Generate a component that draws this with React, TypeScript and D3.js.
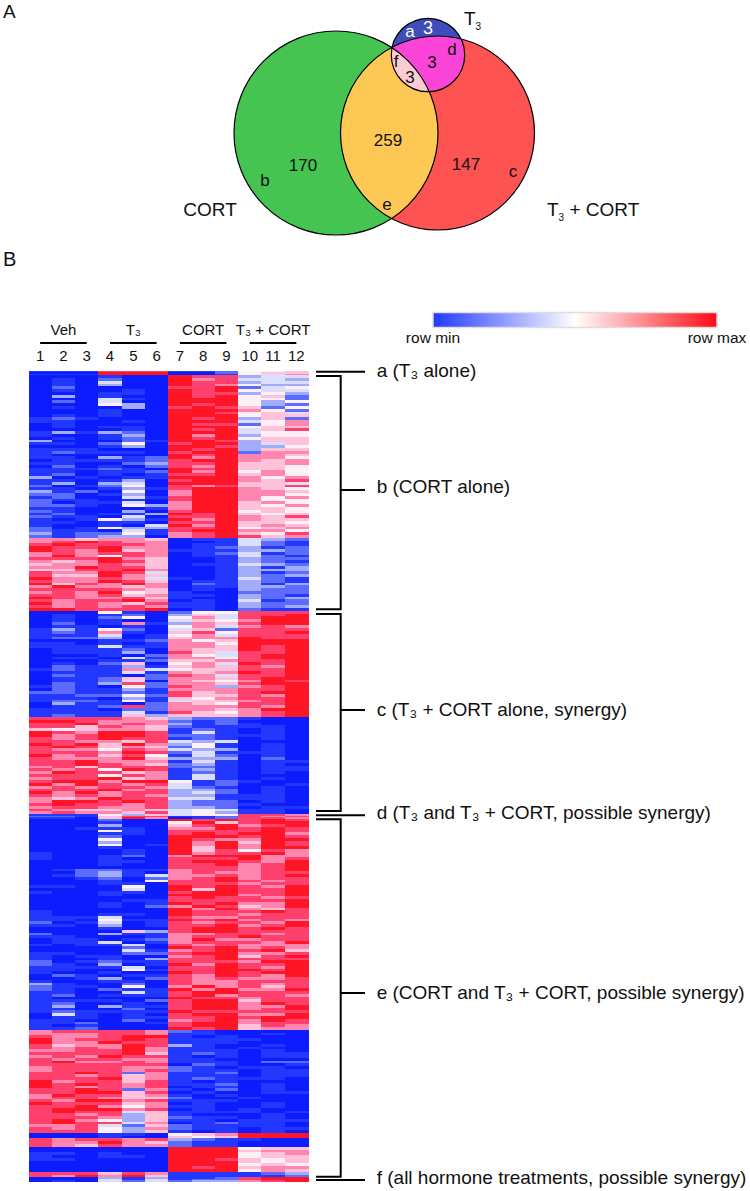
import React from "react";
import * as d3 from "d3";

// Venn counts
const onlyT3 = 3, t3AndCombo = 3, allThree = 3;
const onlyCort = 170, onlyCombo = 147, cortAndCombo = 259;

const groups = ["Veh", "T₃", "CORT", "T₃ + CORT"];
const samples = ["1", "2", "3", "4", "5", "6", "7", "8", "9", "10", "11", "12"];

// heatmap rows, one digit per sample: 0 = row min ... 9 = row max
const rowsA = ["111888112556", "000999002566", "111999001547"];

const rowsB = [
  "000 100 988 344", "010 200 978 443", "010 400 988 344", "010 300 987 533",
  "020 000 889 245", "010 010 989 544", "000 110 988 353", "030 100 989 562",
  "000 410 999 552", "020 400 999 535", "000 530 989 532", "010 030 898 625",
  "000 100 999 752", "000 100 998 564", "010 100 999 566", "121 000 989 362",
  "110 010 999 457", "010 000 988 257", "010 110 999 566", "000 010 989 468",
  "131 320 999 455", "100 130 979 355", "010 120 989 566", "300 021 998 366",
  "110 250 899 346", "000 130 998 335", "111 000 989 366", "121 110 899 277",
  "100 000 989 776", "110 312 979 775", "011 112 899 767", "110 023 889 667",
  "020 102 879 665", "111 210 989 665", "110 112 979 575", "120 101 889 675",
  "301 011 999 757", "110 130 899 768", "130 340 999 664", "201 250 878 668",
  "110 131 899 765", "312 050 799 776", "220 130 799 775", "120 041 899 757",
  "211 010 899 755", "201 140 799 675", "221 053 799 657", "110 001 799 665",
  "210 030 899 565", "120 113 989 656", "211 040 889 768", "101 531 979 766",
  "110 110 889 665", "100 104 979 676", "201 533 889 567", "211 041 899 775",
  "312 251 789 658", "212 330 789 867",
  "776 776 011 432", "789 877 001 421", "898 887 011 421", "988 977 012 312",
  "987 967 111 332", "787 887 012 412", "797 587 011 421", "888 976 001 322",
  "767 986 001 321", "677 876 011 432", "779 886 001 313", "668 897 001 333",
  "877 984 001 312", "866 976 001 323", "977 874 101 421", "877 986 011 321",
  "968 797 021 313", "797 767 011 332", "888 876 010 322", "787 956 100 222",
  "887 867 110 321", "987 786 100 323", "878 897 010 412", "978 768 110 322",
  "878 787 110 323", "998 889 010 211",
];

const rowsC = [
  "000 510 255 888", "010 120 364 889", "010 250 574 899", "010 100 465 799",
  "020 171 376 899", "011 010 574 787", "131 520 462 888", "121 710 685 889",
  "111 401 574 888", "122 301 677 988", "000 112 756 999", "110 101 775 999",
  "111 411 776 989", "011 120 766 989", "011 130 864 889", "000 102 754 899",
  "011 041 775 899", "000 112 667 889", "010 260 574 989", "021 131 676 879",
  "121 174 566 889", "011 141 767 989", "021 102 874 889", "011 262 776 899",
  "011 240 765 798", "021 382 776 899", "121 052 873 789", "021 131 777 889",
  "221 121 867 899", "112 252 866 879", "111 031 657 889", "122 151 466 789",
  "031 102 765 889", "011 282 777 879", "111 022 776 799", "111 141 865 789",
  "121 163 666 789",
  "888 876 322 100", "998 777 212 000", "889 787 312 100", "886 876 211 110",
  "656 776 121 010", "987 998 141 010", "978 998 221 110", "878 988 121 010",
  "887 768 434 000", "989 697 351 010", "898 676 251 010", "877 587 433 010",
  "888 798 241 110", "978 685 142 010", "877 796 333 020", "889 777 141 011",
  "889 876 231 010", "786 888 221 011", "878 598 131 011", "798 867 121 010",
  "888 587 141 000", "788 967 141 010", "899 799 512 100", "979 878 412 001",
  "787 887 421 010", "888 978 332 010", "979 788 342 010", "878 787 331 110",
  "767 988 441 110", "799 898 322 010", "898 878 322 100", "788 778 332 011",
  "876 676 454 110", "787 768 453 110",
];

const rowsD = ["111536455887", "221688112878", "110697012887"];

const rowsE = [
  "000 200 989 898", "000 100 596 899", "000 300 689 789", "001 110 779 898",
  "000 510 888 898", "000 110 898 997", "000 200 999 898", "000 500 987 799",
  "000 300 979 698", "000 501 979 798", "000 100 969 799", "000 010 968 587",
  "100 010 978 897", "100 120 799 977", "100 100 888 978", "000 110 899 879",
  "000 100 889 789", "000 000 888 789", "012 211 788 789", "002 310 787 788",
  "012 314 778 789", "001 202 789 788", "000 105 889 878", "000 110 888 788",
  "110 050 989 879", "000 040 969 889", "100 110 899 889", "000 100 999 789",
  "000 000 898 878", "000 011 888 889", "000 101 989 779", "000 102 798 679",
  "000 000 979 768", "100 000 988 898", "100 110 988 788", "111 400 877 888",
  "110 511 989 787", "201 401 878 879", "110 301 889 789", "000 100 899 898",
  "000 063 899 888", "200 311 778 878", "110 001 788 988", "011 012 797 788",
  "011 401 788 879", "101 140 878 777", "000 020 989 787", "000 041 789 896",
  "110 022 899 778", "101 100 789 689", "100 103 889 888", "201 211 888 799",
  "210 301 979 889", "111 140 889 879", "110 051 889 989", "100 100 989 899",
  "021 011 879 879", "001 302 878 778", "100 110 877 888", "310 020 877 878",
  "211 050 797 868", "210 211 979 779", "110 041 899 888", "120 111 897 887",
  "100 000 988 788", "111 102 899 688", "120 010 899 798", "130 311 899 779",
  "110 020 899 789", "121 111 988 888", "041 010 899 779", "011 011 889 899",
  "110 020 789 798", "112 001 899 788", "101 000 899 687", "112 000 989 677",
  "788 887 210 000", "777 887 110 010", "877 899 101 000", "978 898 111 100",
  "977 988 111 000", "867 798 310 010", "878 797 110 100", "778 897 111 010",
  "888 896 121 011", "787 988 101 011", "878 877 110 000", "897 787 111 022",
  "888 888 021 001", "788 877 210 110", "788 878 211 011", "889 827 112 011",
  "887 867 111 011", "888 967 121 110", "978 868 101 000", "989 878 112 010",
  "987 878 011 010", "889 827 102 010", "889 968 010 011", "798 867 101 000",
  "788 766 200 100", "879 978 111 000", "988 867 010 010", "889 757 110 010",
  "899 978 010 100", "898 846 111 101", "887 836 100 010", "888 736 211 010",
  "897 536 110 111", "898 847 012 110", "778 426 211 110", "878 537 211 011",
  "888 536 101 010",
  "000 110 567 999", "000 100 656 999", "878 878 321 100", "877 976 211 000",
  "876 877 211 000",
  "000 000 999 566", "000 000 999 677", "110 100 999 567", "100 110 999 566",
  "110 000 998 656", "000 000 999 656", "000 000 999 565", "000 000 989 677",
  "000 000 999 576",
  "888 687 111 123", "879 796 111 112",
];

const rowsF = ["000313112899", "000414122899", "010424233789"];

const blocks = [
  { id: "a", genes: onlyT3, rows: rowsA },
  { id: "b", genes: onlyCort, rows: rowsB },
  { id: "c", genes: onlyCombo, rows: rowsC },
  { id: "d", genes: t3AndCombo, rows: rowsD },
  { id: "e", genes: cortAndCombo, rows: rowsE },
  { id: "f", genes: allThree, rows: rowsF },
];

const ramp = ["#0a1eff", "#2238ff", "#5c6cff", "#a3acfa", "#dcdffb", "#fff0f6", "#ffc2da", "#ff86ae", "#ff3f6c", "#ff1226"];

const FONT = "'Liberation Sans', Arial, sans-serif";

const totalGenes = d3.sum(blocks, d => d.genes);
const x = d3.scaleBand().domain(samples).range([28.5, 308]);
const y = d3.scaleLinear().domain([0, totalGenes]).range([371, 1181.5]);
const colour = (v: number) => ramp[v];

const venn = {
  cort: { cx: 336, cy: 133, r: 102 },
  combo: { cx: 437.5, cy: 133, r: 97 },
  t3: { cx: 428, cy: 55, r: 36.7 },
};

const Heatmap = () => {
  let start = 0;
  return (
    <g shapeRendering="crispEdges" filter="url(#soften)">
      {blocks.map(block => {
        const band = d3.scaleBand()
          .domain(block.rows.map((_, i) => String(i)))
          .range([y(start), y(start + block.genes)]);
        start += block.genes;
        return (
          <g key={block.id}>
            {block.rows.map((row, i) =>
              row.replace(/ /g, "").split("").map((v, j) => (
                <rect
                  key={j}
                  x={x(samples[j])}
                  y={band(String(i))}
                  width={x.bandwidth() + 0.5}
                  height={band.bandwidth() + 0.5}
                  fill={colour(+v)}
                />
              ))
            )}
          </g>
        );
      })}
    </g>
  );
};

const Venn = () => (
  <g>
    <defs>
      <clipPath id="clip-combo"><circle {...venn.combo} /></clipPath>
      <clipPath id="clip-t3"><circle {...venn.t3} /></clipPath>
    </defs>
    <circle {...venn.cort} fill="#45c452" />
    <circle {...venn.combo} fill="#fd5353" />
    <g clipPath="url(#clip-combo)"><circle {...venn.cort} fill="#fec854" /></g>
    <circle {...venn.t3} fill="#3f4dbb" />
    <g clipPath="url(#clip-t3)">
      <circle {...venn.combo} fill="#fb45d8" />
      <g clipPath="url(#clip-combo)"><circle {...venn.cort} fill="#fdcbd4" /></g>
    </g>
    {[venn.cort, venn.combo, venn.t3].map((c, i) => (
      <circle key={i} {...c} fill="none" stroke="#000" strokeWidth={1.2} />
    ))}
    <g fontSize={17} textAnchor="middle" fill="#111">
      <text x={303} y={171}>{onlyCort}</text>
      <text x={388} y={146}>{cortAndCombo}</text>
      <text x={466} y={170}>{onlyCombo}</text>
      <text x={265} y={186}>b</text>
      <text x={513} y={177}>c</text>
      <text x={387} y={210}>e</text>
      <text x={452} y={55}>d</text>
      <text x={396} y={67}>f</text>
      <text x={432} y={68}>{t3AndCombo}</text>
      <text x={410} y={83}>{allThree}</text>
      <text x={410} y={37} fill="#fff">a</text>
      <text x={428} y={34} fontSize={18} fill="#fff">{onlyT3}</text>
      <text x={210} y={216} fontSize={19}>CORT</text>
    </g>
    <text x={464} y={25} fontSize={19} fill="#111">T<tspan fontSize={10} dy={5}>3</tspan></text>
    <text x={547} y={216} fontSize={19} fill="#111">T<tspan fontSize={10} dy={5}>3</tspan><tspan dy={-5}> + CORT</tspan></text>
  </g>
);

const groupLines = groups.map((g, i) => ({
  label: g,
  x1: x(samples[i * 3])! + x.bandwidth() / 2,
  x2: x(samples[i * 3 + 2])! + x.bandwidth() / 2,
}));

const bracketStart = 316, bracketSpine = 340.7, tickEnd = 365, labelX = 376.7;

const brackets = [
  { top: 376, bottom: 609.3, tick: 490 },
  { top: 614, bottom: 811, tick: 710 },
  { top: 819.3, bottom: 1176.7, tick: 993 },
];
const singles = [371.7, 815.3, 1180];

const labels = [
  { y: 376.7, text: "a (T₃ alone)" },
  { y: 492.7, text: "b (CORT alone)" },
  { y: 716, text: "c (T₃ + CORT alone, synergy)" },
  { y: 818.7, text: "d (T₃ and T₃ + CORT, possible synergy)" },
  { y: 999.3, text: "e (CORT and T₃ + CORT, possible synergy)" },
  { y: 1184, text: "f (all hormone treatments, possible synergy)" },
];

export default function App() {
  return (
    <svg
      width={750}
      height={1191}
      viewBox="0 0 750 1191"
      fontFamily={FONT}
      style={{ position: "absolute", left: 0, top: 0, background: "#fff" }}
    >
      <defs>
        <linearGradient id="legend-grad">
          <stop offset="0%" stopColor="#2238ff" />
          <stop offset="50%" stopColor="#ffffff" />
          <stop offset="100%" stopColor="#ff0a14" />
        </linearGradient>
        <filter id="soften" x="-2%" y="-1%" width="104%" height="102%">
          <feGaussianBlur stdDeviation="0.35" />
        </filter>
      </defs>

      <text x={3} y={17.5} fontSize={19} fill="#111">A</text>
      <text x={3} y={266} fontSize={20} fill="#111">B</text>

      <Venn />

      {/* column headers */}
      <g textAnchor="middle" fill="#111" fontSize={15}>
        {groupLines.map(g => (
          <g key={g.label}>
            <text x={(g.x1 + g.x2) / 2} y={335}>{g.label}</text>
            <line x1={g.x1} x2={g.x2} y1={343} y2={343} stroke="#000" strokeWidth={2} />
          </g>
        ))}
        {samples.map(s => (
          <text key={s} x={x(s)! + x.bandwidth() / 2} y={361}>{s}</text>
        ))}
      </g>

      <Heatmap />

      {/* legend */}
      <rect x={433} y={312.5} width={284} height={15} fill="url(#legend-grad)" stroke="#ddd" strokeWidth={1.5} />
      <g textAnchor="middle" fontSize={15.5} fill="#111">
        <text x={433} y={343}>row min</text>
        <text x={717} y={343}>row max</text>
      </g>

      {/* brackets */}
      <g stroke="#000" strokeWidth={2} fill="none">
        {brackets.map((b, i) => (
          <g key={i}>
            <path d={`M${bracketStart},${b.top}H${bracketSpine}V${b.bottom}H${bracketStart}`} />
            <line x1={bracketSpine} x2={tickEnd} y1={b.tick} y2={b.tick} />
          </g>
        ))}
        {singles.map(s => (
          <line key={s} x1={bracketStart} x2={tickEnd} y1={s} y2={s} />
        ))}
      </g>
      <g fontSize={19} fill="#111">
        {labels.map(l => (
          <text key={l.text} x={labelX} y={l.y}>{l.text}</text>
        ))}
      </g>
    </svg>
  );
}
